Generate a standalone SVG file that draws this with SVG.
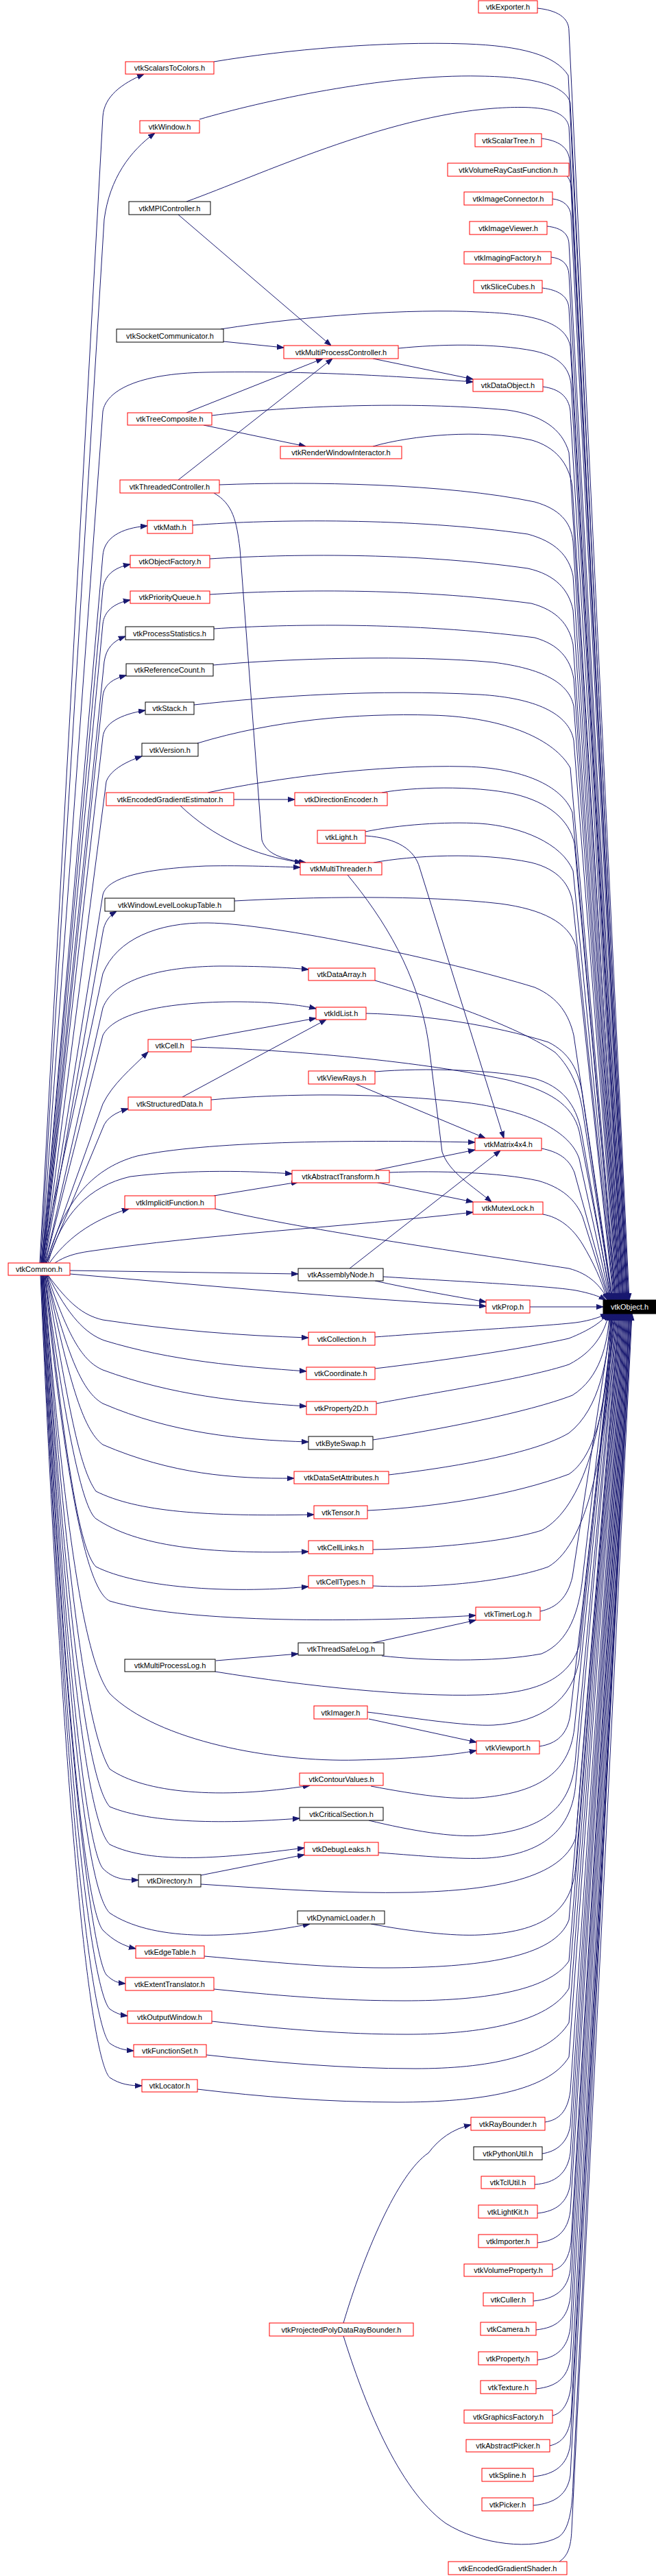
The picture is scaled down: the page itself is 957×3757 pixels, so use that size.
<svg xmlns="http://www.w3.org/2000/svg" width="957" height="3757" viewBox="0 0 957 3757">
<style>
.r rect{fill:#fff;stroke:#f00;stroke-width:1}
.k rect{fill:#fff;stroke:#000;stroke-width:1}
.b rect{fill:#000;stroke:#000;stroke-width:1}
text{font-family:"Liberation Sans",Arial,sans-serif;font-size:11px;text-anchor:middle;fill:#000}
.b text{fill:#fff}
#edges path{fill:none;stroke:#191970;stroke-width:1;marker-end:url(#a)}
</style>
<defs>
<marker id="a" markerUnits="userSpaceOnUse" markerWidth="10" markerHeight="8" viewBox="0 0 10 7" refX="10" refY="3.5" orient="auto"><path d="M0,0L10,3.5L0,7z" fill="#191970" stroke="#191970"/></marker>
</defs>
<rect width="957" height="3757" fill="#fff"/>
<g id="edges">
<path d="M 784,12 C 812,15 830,25 830,45 L 918,1896"/>
<path d="M 312,90 C 420,72 560,60 680,64 C 760,67 810,80 829,110 L 917,1896"/>
<path d="M 291,174 C 380,148 560,108 700,111 C 780,112 825,125 832,150 L 916,1896"/>
<path d="M 272,294 C 380,255 560,170 720,158 C 790,153 825,160 830,185 L 915,1896"/>
<path d="M 790,202 C 815,205 830,215 831,235 L 915,1896"/>
<path d="M 827,257 C 832,262 834,270 834,285 L 914,1896"/>
<path d="M 806,290 C 822,292 832,300 833,315 L 913,1896"/>
<path d="M 798,330 C 818,332 829,340 830,355 L 912,1896"/>
<path d="M 804,375 C 820,377 829,385 830,400 L 911,1896"/>
<path d="M 791,420 C 815,423 829,432 830,450 L 910,1896"/>
<path d="M 322,480 C 450,460 600,450 700,455 C 780,458 825,470 832,505 L 909,1896"/>
<path d="M 581,508 C 640,502 720,500 780,512 C 815,520 830,535 833,560 L 909,1896"/>
<path d="M 792,564 C 815,567 830,578 832,600 L 908,1896"/>
<path d="M 309,606 C 420,592 600,585 740,598 C 790,605 820,625 830,660 L 907,1896"/>
<path d="M 544,651 C 600,635 700,625 776,642 C 810,652 830,675 835,710 L 906,1896"/>
<path d="M 320,707 C 450,702 650,705 780,732 C 815,742 833,760 836,790 L 905,1896"/>
<path d="M 281,766 C 400,757 600,755 770,779 C 810,790 830,810 836,840 L 904,1896"/>
<path d="M 306,815 C 420,808 600,805 770,829 C 810,838 830,860 836,890 L 904,1896"/>
<path d="M 306,867 C 420,860 600,857 775,880 C 812,890 830,910 836,940 L 903,1896"/>
<path d="M 312,917 C 420,910 600,907 780,930 C 815,940 832,960 837,990 L 902,1896"/>
<path d="M 311,970 C 420,960 600,955 720,966 C 790,975 830,995 837,1030 L 901,1896"/>
<path d="M 283,1028 C 400,1015 550,1005 700,1013 C 780,1018 830,1040 837,1080 L 900,1896"/>
<path d="M 288,1084 C 400,1050 520,1040 630,1043 C 740,1046 810,1080 832,1120 L 899,1896"/>
<path d="M 303,1156 C 400,1135 550,1115 680,1118 C 760,1120 820,1145 835,1185 L 898,1896"/>
<path d="M 557,1156 C 600,1148 690,1145 750,1158 C 800,1170 830,1195 838,1230 L 898,1896"/>
<path d="M 533,1213 C 580,1203 650,1198 700,1201 C 760,1205 820,1230 836,1270 L 897,1896"/>
<path d="M 545,1258 C 600,1248 700,1242 775,1258 C 815,1268 832,1290 836,1320 L 896,1896"/>
<path d="M 342,1314 C 450,1308 620,1305 730,1318 C 790,1326 830,1345 840,1380 L 895,1896"/>
<path d="M 60,1842 L 150,1420 C 170,1370 230,1345 303,1346 C 400,1347 650,1400 780,1440 C 815,1455 830,1480 837,1510 L 894,1896"/>
<path d="M 547,1430 C 650,1460 760,1500 810,1535 C 835,1560 845,1590 850,1620 L 893,1896"/>
<path d="M 534,1478 C 620,1480 720,1495 800,1520 C 830,1535 845,1560 850,1600 L 893,1896"/>
<path d="M 279,1527 C 400,1530 600,1545 740,1575 C 800,1590 835,1610 845,1650 L 892,1896"/>
<path d="M 547,1563 C 620,1557 720,1560 780,1573 C 820,1585 840,1610 848,1650 L 891,1896"/>
<path d="M 308,1604 C 420,1594 560,1594 680,1608 C 760,1618 830,1645 845,1690 L 890,1896"/>
<path d="M 790,1675 C 815,1680 830,1690 838,1710 L 889,1896"/>
<path d="M 568,1710 C 640,1707 730,1710 785,1722 C 820,1732 840,1750 850,1775 L 888,1896"/>
<path d="M 314,1763 C 450,1795 700,1830 830,1850 C 860,1858 876,1875 887,1896"/>
<path d="M 792,1771 C 815,1775 835,1790 850,1815 C 865,1840 878,1868 886,1896"/>
<path d="M 559,1862 C 650,1868 800,1875 840,1882 C 860,1886 873,1890 884,1896"/>
<path d="M 773,1906 L 880,1906"/>
<path d="M 547,1950 C 650,1942 780,1935 830,1930 C 855,1928 873,1922 886,1916"/>
<path d="M 547,1996 C 640,1985 760,1968 830,1952 C 860,1940 878,1928 887,1916"/>
<path d="M 549,2047 C 640,2030 770,2010 830,1990 C 865,1972 882,1945 888,1916"/>
<path d="M 544,2100 C 640,2085 770,2060 835,2035 C 875,2010 887,1960 889,1916"/>
<path d="M 567,2151 C 660,2140 780,2120 830,2090 C 875,2055 888,1980 890,1916"/>
<path d="M 536,2203 C 640,2198 750,2180 830,2150 C 875,2120 889,2020 891,1916"/>
<path d="M 544,2260 C 640,2258 740,2248 790,2232 C 850,2200 885,2080 892,1916"/>
<path d="M 544,2313 C 660,2318 760,2300 800,2285 C 860,2250 888,2100 893,1916"/>
<path d="M 788,2350 C 812,2345 828,2330 835,2300 L 894,1916"/>
<path d="M 557,2415 C 620,2422 720,2425 790,2412 C 830,2395 845,2350 850,2300 L 895,1916"/>
<path d="M 314,2438 C 450,2460 600,2475 700,2472 C 780,2470 830,2450 845,2400 L 896,1916"/>
<path d="M 536,2497 C 600,2505 680,2518 720,2516 C 790,2512 835,2480 845,2420 L 897,1916"/>
<path d="M 787,2547 C 812,2543 828,2530 832,2500 L 898,1916"/>
<path d="M 541,2605 C 610,2618 660,2625 700,2622 C 780,2615 830,2590 838,2520 L 899,1916"/>
<path d="M 538,2655 C 600,2670 660,2680 700,2677 C 790,2670 835,2640 840,2560 L 900,1916"/>
<path d="M 552,2702 C 620,2707 670,2712 710,2710 C 790,2705 835,2670 840,2600 L 901,1916"/>
<path d="M 293,2748 C 400,2755 500,2762 600,2760 C 720,2757 820,2740 840,2680 L 902,1916"/>
<path d="M 541,2806 C 600,2817 660,2824 700,2822 C 790,2818 835,2790 840,2720 L 903,1916"/>
<path d="M 298,2853 C 400,2862 480,2870 560,2870 C 700,2870 810,2855 830,2800 L 904,1916"/>
<path d="M 312,2901 C 420,2912 500,2918 590,2918 C 700,2918 800,2905 830,2860 L 905,1916"/>
<path d="M 309,2948 C 420,2960 500,2967 594,2967 C 700,2967 800,2950 830,2900 L 906,1916"/>
<path d="M 301,2997 C 400,3008 500,3017 606,3017 C 710,3017 800,3000 830,2950 L 907,1916"/>
<path d="M 288,3047 C 380,3058 480,3066 580,3066 C 700,3066 800,3050 830,3000 L 908,1916"/>
<path d="M 795,3095 C 815,3092 828,3080 832,3050 L 909,1916"/>
<path d="M 791,3141 C 812,3138 828,3125 832,3100 L 910,1916"/>
<path d="M 780,3186 C 810,3184 828,3170 832,3140 L 911,1916"/>
<path d="M 784,3228 C 812,3225 828,3212 832,3185 L 912,1916"/>
<path d="M 784,3271 C 812,3268 828,3255 832,3225 L 913,1916"/>
<path d="M 806,3311 C 820,3308 830,3295 833,3270 L 914,1916"/>
<path d="M 778,3356 C 810,3353 828,3340 832,3310 L 915,1916"/>
<path d="M 782,3398 C 812,3395 828,3382 832,3350 L 916,1916"/>
<path d="M 784,3442 C 812,3439 828,3425 832,3395 L 917,1916"/>
<path d="M 501,3407 C 530,3500 580,3630 650,3680 C 700,3712 780,3720 815,3700 C 830,3690 835,3660 836,3620 L 918,1916"/>
<path d="M 782,3484 C 812,3481 828,3468 832,3440 L 918,1916"/>
<path d="M 806,3523 C 820,3520 830,3505 833,3480 L 919,1916"/>
<path d="M 802,3567 C 820,3563 830,3550 833,3525 L 920,1916"/>
<path d="M 778,3612 C 810,3609 828,3595 832,3565 L 921,1916"/>
<path d="M 778,3654 C 810,3651 828,3638 832,3610 L 921,1916"/>
<path d="M 816,3736 C 828,3728 833,3715 834,3690 L 922,1916"/>
<path d="M 260,313 L 483,504"/>
<path d="M 326,498 L 414,507"/>
<path d="M 544,523 L 690,553"/>
<path d="M 60,1842 L 150,600 C 155,570 200,545 300,543 C 450,540 600,550 690,557"/>
<path d="M 272,602 L 471,523"/>
<path d="M 297,620 L 446,651"/>
<path d="M 260,700 L 485,523"/>
<path d="M 312,719 C 340,735 345,760 350,800 L 382,1225 C 388,1245 410,1253 446,1258"/>
<path d="M 341,1166 L 430,1166"/>
<path d="M 263,1175 C 310,1220 370,1248 440,1258"/>
<path d="M 533,1219 C 580,1222 605,1240 612,1265 L 735,1660"/>
<path d="M 507,1276 C 560,1340 610,1420 625,1520 L 645,1680 C 655,1710 690,1730 717,1753"/>
<path d="M 279,1518 L 461,1485"/>
<path d="M 266,1600 L 476,1487"/>
<path d="M 519,1581 L 708,1660"/>
<path d="M 547,1707 L 693,1677"/>
<path d="M 547,1724 L 690,1753"/>
<path d="M 312,1744 L 435,1724"/>
<path d="M 510,1850 L 730,1678"/>
<path d="M 547,1868 C 600,1880 660,1890 709,1899"/>
<path d="M 544,2396 L 694,2363"/>
<path d="M 315,2422 L 435,2412"/>
<path d="M 538,2507 L 695,2541"/>
<path d="M 293,2735 L 444,2705"/>
<path d="M 501,3388 C 530,3290 580,3170 625,3140 C 640,3120 660,3105 687,3099"/>
<path d="M 58,1842 L 150,170 C 152,140 178,122 210,108"/>
<path d="M 59,1842 L 152,320 C 160,260 190,220 226,194"/>
<path d="M 61,1842 L 150,810 C 152,785 175,770 215,767"/>
<path d="M 61,1842 L 150,860 C 152,840 165,828 190,823"/>
<path d="M 62,1842 L 150,910 C 152,892 165,880 190,875"/>
<path d="M 62,1842 L 152,965 C 155,945 165,935 183,928"/>
<path d="M 63,1842 L 150,1015 C 152,998 165,990 184,985"/>
<path d="M 63,1842 L 150,1075 C 152,1055 175,1042 212,1036"/>
<path d="M 64,1842 L 155,1140 C 160,1125 180,1112 207,1103"/>
<path d="M 64,1842 L 150,1305 C 155,1285 190,1268 300,1263 C 360,1262 400,1264 438,1265"/>
<path d="M 65,1842 L 150,1360 C 152,1345 160,1335 170,1329"/>
<path d="M 66,1842 L 150,1470 C 165,1430 230,1410 320,1409 C 380,1409 420,1411 450,1414"/>
<path d="M 66,1842 L 150,1510 C 165,1480 230,1462 340,1461 C 400,1461 440,1466 461,1471"/>
<path d="M 67,1842 L 150,1610 C 165,1580 190,1560 216,1534"/>
<path d="M 68,1842 L 150,1645 C 155,1630 170,1622 187,1617"/>
<path d="M 68,1842 C 90,1760 130,1705 200,1686 C 300,1665 500,1662 693,1666"/>
<path d="M 70,1842 C 90,1770 130,1730 190,1716 C 280,1705 370,1708 426,1712"/>
<path d="M 72,1842 C 95,1810 130,1780 188,1763"/>
<path d="M 80,1842 C 95,1832 110,1828 130,1825 C 300,1800 500,1790 690,1768"/>
<path d="M 102,1853 L 435,1858"/>
<path d="M 102,1858 C 300,1875 500,1893 709,1905"/>
<path d="M 70,1860 C 100,1900 120,1918 150,1925 C 250,1940 350,1948 450,1951"/>
<path d="M 70,1860 C 100,1920 125,1945 152,1955 C 250,1985 350,1993 447,2000"/>
<path d="M 69,1860 C 100,1950 120,1985 150,1998 C 250,2035 350,2045 447,2051"/>
<path d="M 68,1860 C 100,1980 120,2030 150,2047 C 250,2090 350,2100 450,2103"/>
<path d="M 68,1860 C 100,2010 120,2085 150,2107 C 250,2150 340,2157 429,2156"/>
<path d="M 67,1860 C 100,2050 115,2140 140,2175 C 200,2205 300,2212 458,2209"/>
<path d="M 66,1860 C 95,2080 120,2200 140,2215 C 200,2255 300,2267 450,2263"/>
<path d="M 66,1860 C 95,2120 115,2260 140,2285 C 200,2315 330,2325 450,2314"/>
<path d="M 65,1860 C 100,2200 130,2320 160,2335 C 260,2365 500,2368 694,2356"/>
<path d="M 64,1860 C 100,2300 130,2430 160,2470 C 230,2540 400,2570 520,2567 C 600,2565 660,2560 695,2553"/>
<path d="M 64,1860 C 100,2350 130,2530 160,2580 C 210,2615 320,2625 452,2604"/>
<path d="M 63,1860 C 100,2400 130,2600 160,2635 C 220,2660 330,2660 437,2652"/>
<path d="M 63,1860 C 100,2450 130,2660 160,2690 C 220,2720 330,2710 444,2695"/>
<path d="M 62,1860 C 100,2500 130,2700 150,2725 C 165,2740 180,2742 202,2742"/>
<path d="M 62,1860 C 100,2550 130,2760 160,2790 C 220,2830 330,2830 452,2806"/>
<path d="M 61,1860 C 100,2600 130,2790 150,2815 C 165,2830 180,2838 198,2842"/>
<path d="M 61,1860 C 100,2650 140,2860 155,2880 C 165,2890 172,2892 183,2893"/>
<path d="M 60,1860 C 100,2700 140,2910 160,2930 C 170,2937 178,2939 186,2940"/>
<path d="M 60,1860 C 100,2750 140,2960 160,2980 C 170,2987 180,2990 195,2991"/>
<path d="M 59,1860 C 100,2800 140,3010 160,3030 C 175,3040 190,3042 207,3042"/>
</g>
<g id="n1" class="r"><rect x="698" y="1" width="86" height="18"/><text x="741" y="14">vtkExporter.h</text></g>
<g id="n2" class="r"><rect x="183" y="90" width="129" height="18"/><text x="247.5" y="103">vtkScalarsToColors.h</text></g>
<g id="n3" class="r"><rect x="204" y="176" width="87" height="18"/><text x="247.5" y="189">vtkWindow.h</text></g>
<g id="n4" class="r"><rect x="693" y="195" width="97" height="19"/><text x="741.5" y="208.5">vtkScalarTree.h</text></g>
<g id="n5" class="r"><rect x="653" y="238" width="177" height="19"/><text x="741.5" y="251.5">vtkVolumeRayCastFunction.h</text></g>
<g id="n6" class="r"><rect x="677" y="280" width="129" height="19"/><text x="741.5" y="293.5">vtkImageConnector.h</text></g>
<g id="n7" class="k"><rect x="188" y="294" width="119" height="19"/><text x="247.5" y="307.5">vtkMPIController.h</text></g>
<g id="n8" class="r"><rect x="685" y="323" width="113" height="19"/><text x="741.5" y="336.5">vtkImageViewer.h</text></g>
<g id="n9" class="r"><rect x="677" y="367" width="127" height="18"/><text x="740.5" y="380">vtkImagingFactory.h</text></g>
<g id="n10" class="r"><rect x="691" y="409" width="100" height="18"/><text x="741" y="422">vtkSliceCubes.h</text></g>
<g id="n11" class="k"><rect x="170" y="480" width="156" height="19"/><text x="248" y="493.5">vtkSocketCommunicator.h</text></g>
<g id="n12" class="r"><rect x="414" y="504" width="167" height="19"/><text x="497.5" y="517.5">vtkMultiProcessController.h</text></g>
<g id="n13" class="r"><rect x="690" y="553" width="102" height="18"/><text x="741" y="566">vtkDataObject.h</text></g>
<g id="n14" class="r"><rect x="186" y="602" width="123" height="18"/><text x="247.5" y="615">vtkTreeComposite.h</text></g>
<g id="n15" class="r"><rect x="409" y="651" width="177" height="18"/><text x="497.5" y="664">vtkRenderWindowInteractor.h</text></g>
<g id="n16" class="r"><rect x="175" y="700" width="145" height="19"/><text x="247.5" y="713.5">vtkThreadedController.h</text></g>
<g id="n17" class="r"><rect x="215" y="759" width="66" height="19"/><text x="248" y="772.5">vtkMath.h</text></g>
<g id="n18" class="r"><rect x="190" y="810" width="116" height="18"/><text x="248" y="823">vtkObjectFactory.h</text></g>
<g id="n19" class="r"><rect x="190" y="862" width="116" height="18"/><text x="248" y="875">vtkPriorityQueue.h</text></g>
<g id="n20" class="k"><rect x="183" y="914" width="129" height="19"/><text x="247.5" y="927.5">vtkProcessStatistics.h</text></g>
<g id="n21" class="k"><rect x="184" y="968" width="127" height="18"/><text x="247.5" y="981">vtkReferenceCount.h</text></g>
<g id="n22" class="k"><rect x="212" y="1024" width="71" height="18"/><text x="247.5" y="1037">vtkStack.h</text></g>
<g id="n23" class="k"><rect x="207" y="1084" width="82" height="19"/><text x="248" y="1097.5">vtkVersion.h</text></g>
<g id="n24" class="r"><rect x="155" y="1156" width="186" height="19"/><text x="248" y="1169.5">vtkEncodedGradientEstimator.h</text></g>
<g id="n25" class="r"><rect x="430" y="1156" width="135" height="19"/><text x="497.5" y="1169.5">vtkDirectionEncoder.h</text></g>
<g id="n26" class="r"><rect x="463" y="1211" width="70" height="19"/><text x="498" y="1224.5">vtkLight.h</text></g>
<g id="n27" class="r"><rect x="438" y="1258" width="119" height="18"/><text x="497.5" y="1271">vtkMultiThreader.h</text></g>
<g id="n28" class="k"><rect x="153" y="1310" width="189" height="19"/><text x="247.5" y="1323.5">vtkWindowLevelLookupTable.h</text></g>
<g id="n29" class="r"><rect x="450" y="1412" width="97" height="18"/><text x="498.5" y="1425">vtkDataArray.h</text></g>
<g id="n30" class="r"><rect x="461" y="1469" width="73" height="18"/><text x="497.5" y="1482">vtkIdList.h</text></g>
<g id="n31" class="r"><rect x="216" y="1516" width="63" height="18"/><text x="247.5" y="1529">vtkCell.h</text></g>
<g id="n32" class="r"><rect x="450" y="1562" width="97" height="19"/><text x="498.5" y="1575.5">vtkViewRays.h</text></g>
<g id="n33" class="r"><rect x="187" y="1600" width="121" height="19"/><text x="247.5" y="1613.5">vtkStructuredData.h</text></g>
<g id="n34" class="r"><rect x="693" y="1660" width="97" height="18"/><text x="741.5" y="1673">vtkMatrix4x4.h</text></g>
<g id="n35" class="r"><rect x="426" y="1707" width="142" height="18"/><text x="497" y="1720">vtkAbstractTransform.h</text></g>
<g id="n36" class="r"><rect x="182" y="1744" width="132" height="19"/><text x="248" y="1757.5">vtkImplicitFunction.h</text></g>
<g id="n37" class="r"><rect x="690" y="1753" width="102" height="18"/><text x="741" y="1766">vtkMutexLock.h</text></g>
<g id="n38" class="r"><rect x="12" y="1842" width="90" height="18"/><text x="57" y="1855">vtkCommon.h</text></g>
<g id="n39" class="k"><rect x="435" y="1850" width="124" height="18"/><text x="497" y="1863">vtkAssemblyNode.h</text></g>
<g id="n40" class="r"><rect x="709" y="1896" width="64" height="19"/><text x="741" y="1909.5">vtkProp.h</text></g>
<g id="n41" class="b"><rect x="880" y="1896" width="77" height="20"/><text x="918.5" y="1910">vtkObject.h</text></g>
<g id="n42" class="r"><rect x="450" y="1943" width="97" height="19"/><text x="498.5" y="1956.5">vtkCollection.h</text></g>
<g id="n43" class="r"><rect x="447" y="1994" width="100" height="18"/><text x="497" y="2007">vtkCoordinate.h</text></g>
<g id="n44" class="r"><rect x="447" y="2044" width="102" height="19"/><text x="498" y="2057.5">vtkProperty2D.h</text></g>
<g id="n45" class="k"><rect x="450" y="2095" width="94" height="19"/><text x="497" y="2108.5">vtkByteSwap.h</text></g>
<g id="n46" class="r"><rect x="429" y="2146" width="138" height="18"/><text x="498" y="2159">vtkDataSetAttributes.h</text></g>
<g id="n47" class="r"><rect x="458" y="2196" width="78" height="19"/><text x="497" y="2209.5">vtkTensor.h</text></g>
<g id="n48" class="r"><rect x="450" y="2247" width="94" height="19"/><text x="497" y="2260.5">vtkCellLinks.h</text></g>
<g id="n49" class="r"><rect x="450" y="2298" width="94" height="18"/><text x="497" y="2311">vtkCellTypes.h</text></g>
<g id="n50" class="r"><rect x="694" y="2344" width="94" height="19"/><text x="741" y="2357.5">vtkTimerLog.h</text></g>
<g id="n51" class="k"><rect x="435" y="2396" width="125" height="18"/><text x="497.5" y="2409">vtkThreadSafeLog.h</text></g>
<g id="n52" class="k"><rect x="182" y="2420" width="132" height="18"/><text x="248" y="2433">vtkMultiProcessLog.h</text></g>
<g id="n53" class="r"><rect x="458" y="2488" width="78" height="19"/><text x="497" y="2501.5">vtkImager.h</text></g>
<g id="n54" class="r"><rect x="695" y="2539" width="92" height="19"/><text x="741" y="2552.5">vtkViewport.h</text></g>
<g id="n55" class="r"><rect x="437" y="2586" width="122" height="18"/><text x="498" y="2599">vtkContourValues.h</text></g>
<g id="n56" class="k"><rect x="437" y="2636" width="122" height="19"/><text x="498" y="2649.5">vtkCriticalSection.h</text></g>
<g id="n57" class="r"><rect x="444" y="2687" width="108" height="19"/><text x="498" y="2700.5">vtkDebugLeaks.h</text></g>
<g id="n58" class="k"><rect x="202" y="2734" width="91" height="18"/><text x="247.5" y="2747">vtkDirectory.h</text></g>
<g id="n59" class="k"><rect x="434" y="2787" width="127" height="19"/><text x="497.5" y="2800.5">vtkDynamicLoader.h</text></g>
<g id="n60" class="r"><rect x="198" y="2838" width="100" height="18"/><text x="248" y="2851">vtkEdgeTable.h</text></g>
<g id="n61" class="r"><rect x="183" y="2884" width="129" height="19"/><text x="247.5" y="2897.5">vtkExtentTranslator.h</text></g>
<g id="n62" class="r"><rect x="186" y="2933" width="123" height="18"/><text x="247.5" y="2946">vtkOutputWindow.h</text></g>
<g id="n63" class="r"><rect x="195" y="2982" width="106" height="18"/><text x="248" y="2995">vtkFunctionSet.h</text></g>
<g id="n64" class="r"><rect x="207" y="3033" width="81" height="18"/><text x="247.5" y="3046">vtkLocator.h</text></g>
<g id="n65" class="r"><rect x="687" y="3088" width="108" height="19"/><text x="741" y="3101.5">vtkRayBounder.h</text></g>
<g id="n66" class="k"><rect x="691" y="3131" width="100" height="19"/><text x="741" y="3144.5">vtkPythonUtil.h</text></g>
<g id="n67" class="r"><rect x="702" y="3174" width="78" height="18"/><text x="741" y="3187">vtkTclUtil.h</text></g>
<g id="n68" class="r"><rect x="698" y="3216" width="86" height="19"/><text x="741" y="3229.5">vtkLightKit.h</text></g>
<g id="n69" class="r"><rect x="698" y="3259" width="86" height="19"/><text x="741" y="3272.5">vtkImporter.h</text></g>
<g id="n70" class="r"><rect x="677" y="3302" width="129" height="18"/><text x="741.5" y="3315">vtkVolumeProperty.h</text></g>
<g id="n71" class="r"><rect x="705" y="3344" width="73" height="19"/><text x="741.5" y="3357.5">vtkCuller.h</text></g>
<g id="n72" class="r"><rect x="701" y="3387" width="81" height="19"/><text x="741.5" y="3400.5">vtkCamera.h</text></g>
<g id="n73" class="r"><rect x="698" y="3430" width="86" height="19"/><text x="741" y="3443.5">vtkProperty.h</text></g>
<g id="n74" class="r"><rect x="393" y="3388" width="210" height="19"/><text x="498" y="3401.5">vtkProjectedPolyDataRayBounder.h</text></g>
<g id="n75" class="r"><rect x="701" y="3472" width="81" height="19"/><text x="741.5" y="3485.5">vtkTexture.h</text></g>
<g id="n76" class="r"><rect x="677" y="3515" width="129" height="19"/><text x="741.5" y="3528.5">vtkGraphicsFactory.h</text></g>
<g id="n77" class="r"><rect x="680" y="3558" width="122" height="18"/><text x="741" y="3571">vtkAbstractPicker.h</text></g>
<g id="n78" class="r"><rect x="703" y="3600" width="75" height="19"/><text x="740.5" y="3613.5">vtkSpline.h</text></g>
<g id="n79" class="r"><rect x="703" y="3643" width="75" height="19"/><text x="740.5" y="3656.5">vtkPicker.h</text></g>
<g id="n80" class="r"><rect x="654" y="3736" width="173" height="19"/><text x="740.5" y="3749.5">vtkEncodedGradientShader.h</text></g>
</svg>
